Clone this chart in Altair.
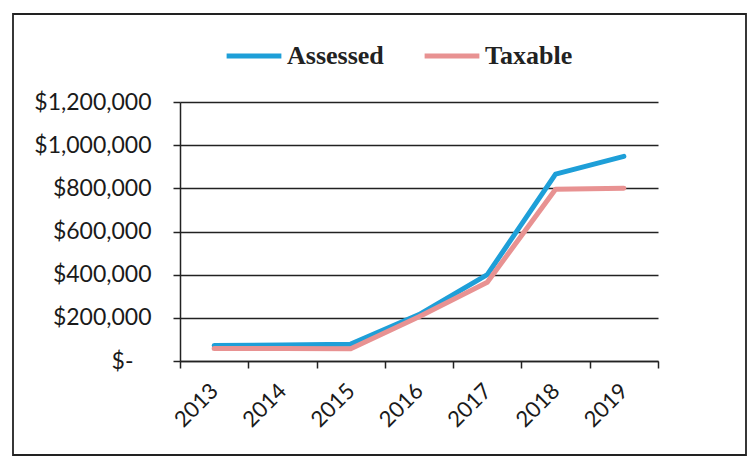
import altair as alt
import pandas as pd

years = ["2013", "2014", "2015", "2016", "2017", "2018", "2019"]
assessed = [72000, 74000, 78000, 215000, 400000, 866000, 948000]
taxable = [58000, 58000, 57000, 205000, 365000, 796000, 800000]
series = ["Assessed", "Taxable"]
colors = ["#1E9FD8", "#E89292"]

rows = []
for name, vals in zip(series, [assessed, taxable]):
    for y, v in zip(years, vals):
        rows.append({"Year": y, "Value": v, "Series": name})
df = pd.DataFrame(rows)

W, H = 478, 259
PL, PT, PR, PB = 180, 102, 90, 102

frame = alt.Chart(pd.DataFrame({"a": [0]})).mark_rect(
    fill=None, stroke="#222", strokeWidth=1.8
).encode(
    x=alt.value(-167), x2=alt.value(W + 88),
    y=alt.value(-88), y2=alt.value(H + 94)
)

lines = alt.Chart(df).mark_line(strokeWidth=5, strokeCap="round", strokeJoin="round").encode(
    x=alt.X("Year:N", sort=years, title=None,
            scale=alt.Scale(paddingInner=0, paddingOuter=0),
            axis=alt.Axis(labelAngle=-45, labelAlign="right", labelBaseline="middle",
                          tickBand="extent", domainColor="#222", tickColor="#222",
                          tickSize=7, domainWidth=1.5, tickWidth=1.5,
                          labelFont="Lato", labelFontSize=22, labelColor="#1a1a1a",
                          labelPadding=19, grid=False)),
    y=alt.Y("Value:Q", title=None,
            scale=alt.Scale(domain=[0, 1200000], nice=False),
            axis=alt.Axis(values=[0, 200000, 400000, 600000, 800000, 1000000, 1200000],
                          labelExpr="datum.value == 0 ? '$-' : '$' + format(datum.value, ',.0f')",
                          domainColor="#222", tickColor="#222", tickSize=7,
                          domainWidth=1.5, tickWidth=1.5,
                          gridColor="#222", gridWidth=1.3, gridOpacity=1,
                          labelFont="Lato", labelFontSize=23, labelColor="#1a1a1a",
                          labelPadding={"condition": {"test": "datum.value == 0", "value": 40},
                                        "value": 22})),
    color=alt.Color("Series:N", sort=series,
                    scale=alt.Scale(domain=series, range=colors),
                    legend=alt.Legend(orient="none", legendX=44, legendY=-76,
                                      direction="horizontal", title=None,
                                      symbolType="stroke", symbolSize=3000,
                                      symbolStrokeWidth=5, columnPadding=30,
                                      labelFont="Liberation Serif", labelFontSize=26,
                                      labelFontWeight="bold", labelColor="#222",
                                      labelOffset=3)),
    order=alt.Order("Series:N")
)

chart = alt.layer(frame, lines).properties(
    width=W, height=H,
    padding={"left": PL, "top": PT, "right": PR, "bottom": PB},
    autosize=alt.AutoSizeParams(type="none"),
    background="white"
).configure_view(stroke=None)

chart.save("out.html", embed_options={"renderer": "svg", "actions": False})
